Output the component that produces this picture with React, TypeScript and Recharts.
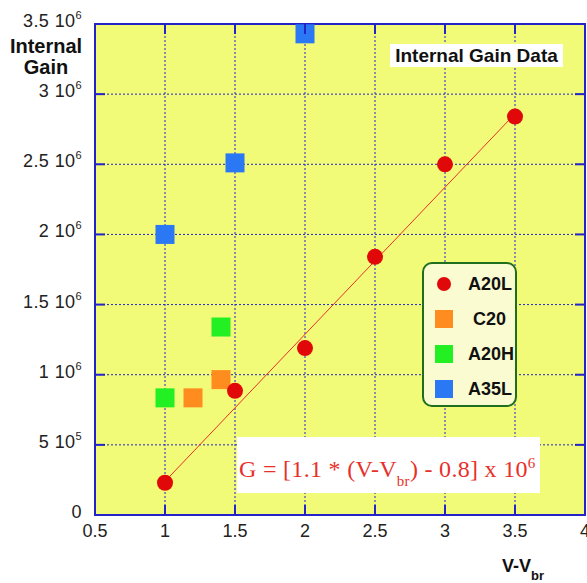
import React from "react";
import {
  ComposedChart,
  Scatter,
  XAxis,
  YAxis,
  CartesianGrid,
  ReferenceArea,
} from "recharts";

// --- data ---
const xTicks = [0.5, 1, 1.5, 2, 2.5, 3, 3.5, 4];
const yTicks = [0, 5e5, 1e6, 1.5e6, 2e6, 2.5e6, 3e6, 3.5e6];

const a20l = [
  { x: 1, y: 0.23e6 },
  { x: 1.5, y: 0.885e6 },
  { x: 2, y: 1.19e6 },
  { x: 2.5, y: 1.84e6 },
  { x: 3, y: 2.5e6 },
  { x: 3.5, y: 2.84e6 },
];
const c20 = [
  { x: 1.2, y: 0.835e6 },
  { x: 1.4, y: 0.965e6 },
];
const a20h = [
  { x: 1, y: 0.835e6 },
  { x: 1.4, y: 1.34e6 },
];
const a35l = [
  { x: 1, y: 2.0e6 },
  { x: 1.5, y: 2.51e6 },
  { x: 2, y: 3.43e6 },
];
const fitLine = [
  { x: 1, y: 0.24e6 },
  { x: 3.5, y: 2.86e6 },
];

const legendItems = [
  { name: "A20L", color: "#e00808", round: true },
  { name: "C20", color: "#ff8c1e", round: false },
  { name: "A20H", color: "#22f022", round: false },
  { name: "A35L", color: "#2a78f4", round: false },
];

const YELLOW = "#f2fb78";
const BLUE = "#2323c8";
const FONT = "'Liberation Sans', Arial, sans-serif";

const W = 587;
const H = 583;
const PLOT_TOP = 24;
const PLOT_RIGHT = 585;

function Dot(props: any) {
  const { cx, cy } = props;
  return <circle cx={cx} cy={cy} r={8} fill="#e00808" />;
}
function squareShape(color: string) {
  return (props: any) => {
    const { cx, cy } = props;
    return <rect x={cx - 9.5} y={cy - 9.5} width={19} height={19} fill={color} />;
  };
}

function YTick(props: any) {
  const { x, y, payload } = props;
  const v = payload.value as number;
  let mant = "0";
  let exp = "";
  if (v !== 0) {
    const e = Math.floor(Math.log10(v));
    exp = String(e);
    mant = String(+(v / Math.pow(10, e)).toFixed(2));
  }
  const axisX = x + 13;
  return (
    <g>
      <line x1={axisX} x2={axisX + 10} y1={y} y2={y} stroke={BLUE} strokeWidth={2} />
      <line x1={PLOT_RIGHT - 10} x2={PLOT_RIGHT} y1={y} y2={y} stroke={BLUE} strokeWidth={2} />
      <text x={x} y={y + 3} textAnchor="end" fontFamily={FONT} fontSize={18} fill="#222" letterSpacing={0.4}>
        {exp ? (
          <>
            <tspan>{mant + " 10"}</tspan>
            <tspan dy={-8} fontSize={11}>{exp}</tspan>
          </>
        ) : (
          mant
        )}
      </text>
    </g>
  );
}

function XTick(props: any) {
  const { x, y, payload } = props;
  const axisY = y - 10;
  return (
    <g>
      <line x1={x} x2={x} y1={axisY} y2={axisY - 10} stroke={BLUE} strokeWidth={2} />
      <line x1={x} x2={x} y1={PLOT_TOP} y2={PLOT_TOP + 10} stroke={BLUE} strokeWidth={2} />
      <text x={x} y={y + 12} textAnchor="middle" fontFamily={FONT} fontSize={18} fill="#222">
        {payload.value}
      </text>
    </g>
  );
}

export default function App() {
  return (
    <div style={{ position: "absolute", left: 0, top: 0, width: W, height: H, background: "#fff", fontFamily: FONT }}>
      <ComposedChart
        width={W}
        height={H}
        margin={{ top: PLOT_TOP, right: W - PLOT_RIGHT, bottom: 28, left: 0 }}
      >
        <CartesianGrid stroke={BLUE} strokeDasharray="2 2" strokeWidth={1} fill={YELLOW} />
        <XAxis
          type="number"
          dataKey="x"
          domain={[0.5, 4]}
          ticks={xTicks}
          interval={0}
          height={40}
          tickSize={0}
          tickMargin={10}
          tick={<XTick />}
          axisLine={{ stroke: BLUE, strokeWidth: 2 }}
          allowDataOverflow
        />
        <YAxis
          type="number"
          dataKey="y"
          domain={[0, 3.5e6]}
          ticks={yTicks}
          interval={0}
          width={95}
          tickSize={0}
          tickMargin={13}
          tick={<YTick />}
          axisLine={{ stroke: BLUE, strokeWidth: 2 }}
          allowDataOverflow
        />
        <ReferenceArea x1={0.5} x2={4} y1={0} y2={3.5e6} fill="none" stroke={BLUE} strokeWidth={2} />
        <Scatter
          data={fitLine}
          line={{ stroke: "#e8302a", strokeWidth: 1 }}
          shape={() => null}
          isAnimationActive={false}
        />
        <Scatter data={c20} shape={squareShape("#ff8c1e")} isAnimationActive={false} />
        <Scatter data={a20h} shape={squareShape("#22f022")} isAnimationActive={false} />
        <Scatter data={a35l} shape={squareShape("#2a78f4")} isAnimationActive={false} />
        <Scatter data={a20l} shape={<Dot />} isAnimationActive={false} />
      </ComposedChart>

      {/* y axis title */}
      <div
        style={{
          position: "absolute",
          left: 4,
          top: 36,
          width: 84,
          textAlign: "center",
          fontWeight: "bold",
          fontSize: 20,
          lineHeight: "21px",
          color: "#111",
        }}
      >
        Internal
        <br />
        Gain
      </div>

      {/* x axis title */}
      <div style={{ position: "absolute", left: 502, top: 556, fontWeight: "bold", fontSize: 18, color: "#111", whiteSpace: "nowrap" }}>
        V-V<sub style={{ fontSize: 13, verticalAlign: "-8px" }}>br</sub>
      </div>

      {/* title box */}
      <div
        style={{
          position: "absolute",
          left: 390,
          top: 44,
          width: 173,
          height: 23,
          background: "#fff",
          fontWeight: "bold",
          fontSize: 19,
          lineHeight: "23px",
          textAlign: "center",
          color: "#111",
          whiteSpace: "nowrap",
        }}
      >
        Internal Gain Data
      </div>

      {/* legend */}
      <div
        style={{
          position: "absolute",
          left: 422,
          top: 262,
          width: 91,
          height: 141,
          border: "2px solid #1e6e1e",
          borderRadius: 10,
          background: "#fbfbd2",
        }}
      >
        {legendItems.map((it, i) => (
          <div
            key={it.name}
            style={{ position: "absolute", left: 0, top: 8 + i * 35, height: 24, width: 91, display: "flex", alignItems: "center" }}
          >
            <div
              style={{
                marginLeft: it.round ? 13 : 11,
                width: it.round ? 14 : 18,
                height: it.round ? 14 : 18,
                borderRadius: it.round ? "50%" : 0,
                background: it.color,
              }}
            />
            <div style={{ position: "absolute", left: 44, right: 4, textAlign: "center", fontWeight: "bold", fontSize: 18, color: "#111" }}>
              {it.name}
            </div>
          </div>
        ))}
      </div>

      {/* formula box */}
      <div
        style={{
          position: "absolute",
          left: 237,
          top: 437,
          width: 303,
          height: 56,
          background: "#fff",
          color: "#e8302a",
          fontFamily: "'Liberation Serif', 'Times New Roman', serif",
          fontSize: 24,
          letterSpacing: 0.3,
          whiteSpace: "nowrap",
          boxSizing: "border-box",
          paddingLeft: 2,
          paddingTop: 14,
          lineHeight: "24px",
        }}
      >
        G = [1.1 * (V-V<sub style={{ fontSize: 15, verticalAlign: "-9px" }}>br</sub>) - 0.8] x 10
        <sup style={{ fontSize: 15, verticalAlign: "9px" }}>6</sup>
      </div>
    </div>
  );
}
